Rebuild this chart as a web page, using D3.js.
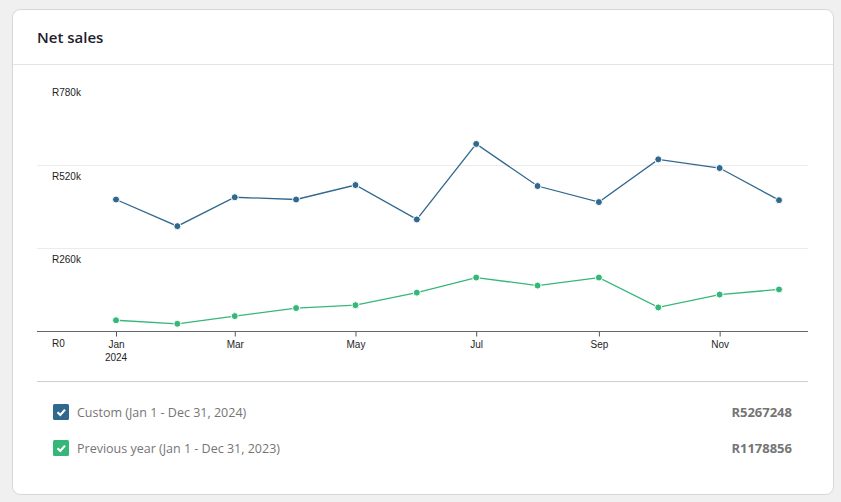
<!DOCTYPE html>
<html>
<head>
<meta charset="utf-8">
<script src="https://cdn.jsdelivr.net/npm/d3@7"></script>
<style>
  body { margin: 0; background: #f0f0f0; }
  svg { display: block; }
</style>
</head>
<body>
<div id="chart"></div>
<script>
// Data
var months = ["Jan", "Feb", "Mar", "Apr", "May", "Jun", "Jul", "Aug", "Sep", "Oct", "Nov", "Dec"];
var current = [411000, 328000, 418000, 411000, 456000, 349000, 584000, 453000, 403000, 536000, 509000, 409000];
var previous = [35000, 24000, 48000, 73000, 82000, 121000, 168000, 143000, 168000, 75000, 115000, 131000];
var yTicks = [0, 260000, 520000, 780000];
var seriesNames = ["Custom (Jan 1 - Dec 31, 2024)", "Previous year (Jan 1 - Dec 31, 2023)"];
var seriesTotals = ["R5267248", "R1178856"];
var colors = ["#31688e", "#35b779"];

var w = 841;
var h = 502;

var svg = d3.select("#chart")
            .append("svg")
            .attr("width", w)
            .attr("height", h);

// card
svg.append("rect")
   .attr("x", 12.5).attr("y", 9.5)
   .attr("width", 821).attr("height", 485)
   .attr("rx", 8)
   .attr("fill", "#fff")
   .attr("stroke", "#d6d6d6");

svg.append("line")
   .attr("x1", 13).attr("x2", 833)
   .attr("y1", 64.5).attr("y2", 64.5)
   .attr("stroke", "#e4e4e4");

svg.append("text")
   .attr("x", 37).attr("y", 43)
   .attr("font-family", "Open Sans, sans-serif")
   .attr("font-size", "15px")
   .attr("font-weight", 600)
   .attr("fill", "#1e1e2e")
   .text("Net sales");

// scales
var dates = months.map(function(m, i) { return new Date(2024, i, 1); });

var xScale = d3.scaleTime()
               .domain([dates[0], dates[11]])
               .range([116, 779]);

var yScale = d3.scaleLinear()
               .domain([0, 780000])
               .range([331.5, 81]);

var left = 37, right = 808;

// gridlines (skip baseline and top)
svg.append("g")
   .selectAll("line")
   .data(yTicks.slice(1, 3))
   .enter()
   .append("line")
   .attr("x1", left).attr("x2", right)
   .attr("y1", function(d) { return Math.round(yScale(d)) + 0.5; })
   .attr("y2", function(d) { return Math.round(yScale(d)) + 0.5; })
   .attr("stroke", "#ececec");

// y labels, sitting just under each gridline
svg.append("g")
   .selectAll("text")
   .data(yTicks)
   .enter()
   .append("text")
   .attr("x", 52)
   .attr("y", function(d) { return yScale(d) + 15; })
   .attr("font-family", "Arial, Liberation Sans, sans-serif")
   .attr("font-size", "10px")
   .attr("fill", "#1e1e1e")
   .text(function(d) { return d === 0 ? "R0" : "R" + (d / 1000) + "k"; });

// x axis
var xAxis = d3.axisBottom(xScale)
              .tickValues(dates.filter(function(d, i) { return i % 2 === 0; }))
              .tickSize(5)
              .tickSizeOuter(0)
              .tickFormat(function(d) { return months[d.getMonth()]; });

var gx = svg.append("g")
   .attr("transform", "translate(0," + 331.5 + ")")
   .call(xAxis);

gx.select(".domain").remove();
gx.selectAll(".tick line").attr("stroke", "#555");
gx.selectAll(".tick text")
  .attr("y", 9)
  .attr("font-family", "Arial, Liberation Sans, sans-serif")
  .attr("font-size", "10px")
  .attr("fill", "#1e1e1e");

gx.append("text")
  .attr("x", xScale(dates[0])).attr("y", 29)
  .attr("text-anchor", "middle")
  .attr("font-family", "Arial, Liberation Sans, sans-serif")
  .attr("font-size", "10px")
  .attr("fill", "#1e1e1e")
  .text("2024");

svg.append("line")
   .attr("x1", left).attr("x2", right)
   .attr("y1", 331.5).attr("y2", 331.5)
   .attr("stroke", "#666");

// lines and points
var line = d3.line()
             .x(function(d, i) { return xScale(dates[i]); })
             .y(function(d) { return yScale(d); });

[previous, current].forEach(function(series, k) {
  var c = k === 0 ? colors[1] : colors[0];
  svg.append("path")
     .datum(series)
     .attr("d", line)
     .attr("fill", "none")
     .attr("stroke", c)
     .attr("stroke-width", 1.3);

  svg.append("g")
     .selectAll("circle")
     .data(series)
     .enter()
     .append("circle")
     .attr("cx", function(d, i) { return xScale(dates[i]); })
     .attr("cy", function(d) { return yScale(d); })
     .attr("r", 3.5)
     .attr("fill", c)
     .attr("stroke", "#fff")
     .attr("stroke-width", 1);
});

// legend
svg.append("line")
   .attr("x1", left).attr("x2", right)
   .attr("y1", 381.5).attr("y2", 381.5)
   .attr("stroke", "#cfcfcf");

var rows = svg.append("g")
   .selectAll("g")
   .data(seriesNames)
   .enter()
   .append("g")
   .attr("transform", function(d, i) { return "translate(0," + (404 + i * 36) + ")"; });

rows.append("rect")
    .attr("x", 53).attr("y", 0)
    .attr("width", 16).attr("height", 16)
    .attr("rx", 1.5)
    .attr("fill", function(d, i) { return colors[i]; });

rows.append("path")
    .attr("d", "M57.5,8.3 L60.3,11 L65,5.6")
    .attr("fill", "none")
    .attr("stroke", "#fff")
    .attr("stroke-width", 2.2);

rows.append("text")
    .attr("x", 77).attr("y", 13)
    .attr("font-family", "Open Sans, sans-serif")
    .attr("font-size", "12.5px")
    .attr("fill", "#757575")
    .text(function(d) { return d; });

rows.append("text")
    .attr("x", 792).attr("y", 13)
    .attr("text-anchor", "end")
    .attr("font-family", "Open Sans, sans-serif")
    .attr("font-size", "13px")
    .attr("font-weight", "bold")
    .attr("fill", "#757575")
    .text(function(d, i) { return seriesTotals[i]; });
</script>
</body>
</html>
